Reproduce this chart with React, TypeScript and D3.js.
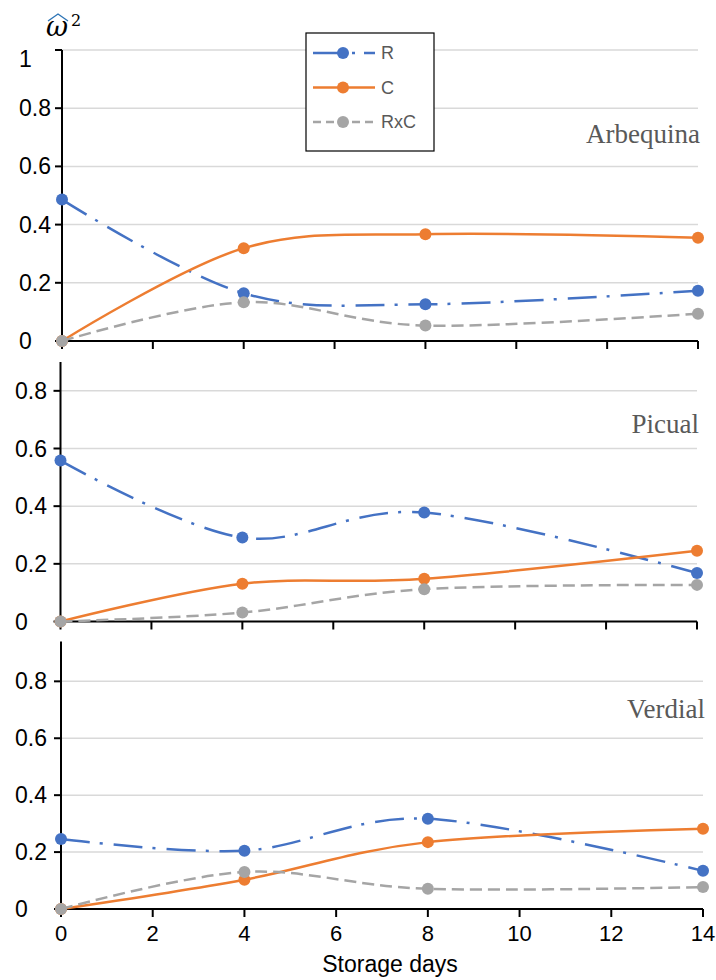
import React from 'react';
import * as d3 from 'd3';

// storage days sampled
const days = [0, 4, 8, 14];
const xTicks = [0, 2, 4, 6, 8, 10, 12, 14];
const seriesNames = ['R', 'C', 'RxC'];

// effect size per cultivar
const arbequinaR = [0.486, 0.164, 0.126, 0.173];
const arbequinaC = [0, 0.319, 0.367, 0.355];
const arbequinaRxC = [0, 0.133, 0.053, 0.094];

const picualR = [0.558, 0.291, 0.378, 0.168];
const picualC = [0, 0.131, 0.148, 0.245];
const picualRxC = [0, 0.031, 0.112, 0.127];

const verdialR = [0.246, 0.205, 0.317, 0.134];
const verdialC = [0, 0.103, 0.235, 0.282];
const verdialRxC = [0, 0.13, 0.071, 0.077];

const ticksTop = [0, 0.2, 0.4, 0.6, 0.8, 1];
const ticksLow = [0, 0.2, 0.4, 0.6, 0.8];

const colors = ['#4472C4', '#ED7D31', '#A5A5A5'];
const dashes = ['29 10 3 11', null, '12 6'];

const panels = [
  { name: 'Arbequina', series: [arbequinaR, arbequinaC, arbequinaRxC], ticks: ticksTop, yMax: 1, y0: 341, y1: 50, x0: 62, x1: 698, labelX: 19, nameY: 143, showX: false },
  { name: 'Picual', series: [picualR, picualC, picualRxC], ticks: ticksLow, yMax: 0.9, y0: 621.5, y1: 362, x0: 60.5, x1: 697, labelX: 15, nameY: 433, showX: false },
  { name: 'Verdial', series: [verdialR, verdialC, verdialRxC], ticks: ticksLow, yMax: 0.94, y0: 909, y1: 641.5, x0: 61, x1: 703, labelX: 15, nameY: 718, showX: true },
];

const sans = '"Liberation Sans", Arial, sans-serif';

const Panel = ({ p }) => {
  const x = d3.scaleLinear().domain([0, 14]).range([p.x0, p.x1]);
  const y = d3.scaleLinear().domain([0, p.yMax]).range([p.y0, p.y1]);
  const line = d3
    .line()
    .x((d) => x(d[0]))
    .y((d) => y(d[1]))
    .curve(d3.curveCardinal.tension(0));

  return (
    <g>
      {p.ticks.filter((t) => t > 0).map((t) => (
        <line key={'g' + t} x1={p.x0} x2={p.x1} y1={y(t)} y2={y(t)} stroke="#D9D9D9" strokeWidth={1.5} />
      ))}
      {p.ticks.map((t) => (
        <g key={'t' + t}>
          <line x1={p.x0 - 7} x2={p.x0} y1={y(t)} y2={y(t)} stroke="#000" strokeWidth={2} />
          <text x={p.labelX} y={Math.max(y(t), p.y1 + 9)} dy="0.35em" fontSize={23} fontFamily={sans} fill="#000">
            {String(t)}
          </text>
        </g>
      ))}
      {xTicks.map((t) => (
        <g key={'x' + t}>
          <line x1={x(t)} x2={x(t)} y1={p.y0} y2={p.y0 + 8} stroke="#000" strokeWidth={2} />
          {p.showX && (
            <text x={x(t)} y={p.y0 + 32} textAnchor="middle" fontSize={22} fontFamily={sans} fill="#000">
              {t}
            </text>
          )}
        </g>
      ))}
      <line x1={p.x0} x2={p.x1} y1={p.y0} y2={p.y0} stroke="#000" strokeWidth={2} />
      <line x1={p.x0} x2={p.x0} y1={p.y0} y2={p.y1} stroke="#000" strokeWidth={2} />
      <text x={p.x1 + 2} y={p.nameY} textAnchor="end" fontSize={27} fontFamily='"Liberation Serif", "Times New Roman", serif' fill="#595959">
        {p.name}
      </text>
      {p.series.map((vals, i) => {
        const pts = days.map((d, j) => [d, vals[j]]);
        return (
          <g key={seriesNames[i]}>
            <path d={line(pts)} fill="none" stroke={colors[i]} strokeWidth={2.5} strokeDasharray={dashes[i] || undefined} />
            {pts.map((d) => (
              <circle key={d[0]} cx={x(d[0])} cy={y(d[1])} r={6} fill={colors[i]} />
            ))}
          </g>
        );
      })}
    </g>
  );
};

const Legend = () => {
  const lx = 306;
  const ly = 33;
  return (
    <g>
      <rect x={lx} y={ly} width={128} height={118} fill="#fff" stroke="#000" strokeWidth={1.2} />
      {seriesNames.map((s, i) => {
        const cy = ly + 20 + i * 34.5;
        return (
          <g key={s}>
            <line x1={lx + 7} x2={lx + 69} y1={cy} y2={cy} stroke={colors[i]} strokeWidth={2.5} strokeDasharray={dashes[i] ? (i === 0 ? '30 9 3 9' : '8 5') : undefined} />
            <circle cx={lx + 37} cy={cy} r={6} fill={colors[i]} />
            <text x={lx + 75} y={cy} dy="0.36em" fontSize={18} fontFamily='"Liberation Sans Narrow", "Liberation Sans", sans-serif' fill="#595959">
              {s}
            </text>
          </g>
        );
      })}
    </g>
  );
};

const App = () => {
  return (
    <svg width={716} height={980} style={{ position: 'absolute', left: 0, top: 0, background: '#fff' }}>
      <rect width={716} height={980} fill="#fff" />
      {panels.map((p) => (
        <Panel key={p.name} p={p} />
      ))}
      <Legend />
      {/* y-axis symbol: omega hat squared */}
      <text x={46} y={36} fontSize={27} fontStyle="italic" fontFamily='"DejaVu Serif", serif' fill="#000">ω</text>
      <path d="M48,21 L58,14 L68,21" fill="none" stroke="#2E75B6" strokeWidth={1.4} />
      <text x={71} y={26} fontSize={16} fontFamily='"DejaVu Serif", serif' fill="#000">2</text>
      <text x={390} y={972} textAnchor="middle" fontSize={23} fontFamily={sans} fill="#000">
        Storage days
      </text>
    </svg>
  );
};

export default App;
